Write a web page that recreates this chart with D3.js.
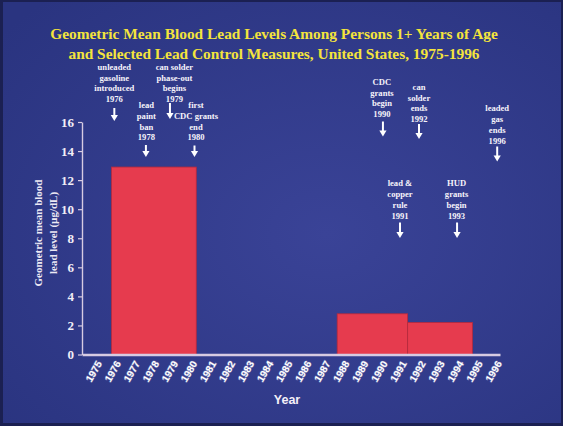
<!DOCTYPE html>
<html><head><meta charset="utf-8">
<script src="https://cdn.jsdelivr.net/npm/d3@7"></script>
<style>body{margin:0;background:#1b2052}svg{display:block}</style>
</head><body>
<script>
// ---- data ----
const titleLines = ["Geometric Mean Blood Lead Levels Among Persons 1+ Years of Age",
                    "and Selected Lead Control Measures, United States, 1975-1996"];
const yearTicks = [1975,1976,1977,1978,1979,1980,1981,1982,1983,1984,1985,1986,1987,1988,1989,1990,1991,1992,1993,1994,1995,1996];
const yTicks = [0,2,4,6,8,10,12,14,16];
const periodStart = [1975.8, 1987.65, 1991.35];
const periodEnd   = [1980.25, 1991.35, 1994.75];
const meanLead    = [12.9, 2.8, 2.2];
const eventLabels = [
  ["unleaded","gasoline","introduced","1976"],
  ["lead","paint","ban","1978"],
  ["can solder","phase-out","begins","1979"],
  ["first","CDC grants","end","1980"],
  ["CDC","grants","begin","1990"],
  ["lead &","copper","rule","1991"],
  ["can","solder","ends","1992"],
  ["HUD","grants","begin","1993"],
  ["leaded","gas","ends","1996"]
];
const eventYears = [1976,1978,1979,1980,1990,1991,1992,1993,1996];

// ---- layout (pixels) ----
const W = 563, H = 426;
// per-event: text dx, arrow dx, first text line y, arrow top, arrow bottom
const evLayout = [
  {tdx:-1, adx:-1, ty:66.7, a0:108, a1:121},
  {tdx:-7, adx:-7.5, ty:105, a0:145, a1:157},
  {tdx:2,  adx:-2.5, ty:66.7, a0:103, a1:119},
  {tdx:4.5,adx:3, ty:105, a0:145.5, a1:157},
  {tdx:0,  adx:1, ty:81.7, a0:121.5, a1:136.5},
  {tdx:-1, adx:-1, ty:183.3, a0:222.5, a1:238},
  {tdx:-1, adx:-1, ty:86.7, a0:124, a1:139},
  {tdx:17.5, adx:18, ty:183.3, a0:222.5, a1:238},
  {tdx:1,  adx:1, ty:108.3, a0:146.5, a1:161.5}
];

const svg = d3.select("body").append("svg").attr("width", W).attr("height", H);
const defs = svg.append("defs");
const rg = defs.append("radialGradient").attr("id","bg").attr("cx","0.58").attr("cy","0.55").attr("r","0.75");
rg.append("stop").attr("offset","0").attr("stop-color","#3a4397");
rg.append("stop").attr("offset","1").attr("stop-color","#2a3480");

svg.append("rect").attr("width",W).attr("height",H).attr("fill","#1b2052");
svg.append("rect").attr("x",3).attr("y",2).attr("width",W-5).attr("height",421).attr("fill","url(#bg)");

// title
svg.append("g").selectAll("text").data(titleLines).join("text")
  .attr("x",274).attr("y",(d,i)=>38.5+i*20.5)
  .attr("text-anchor","middle")
  .attr("font-family","'Liberation Serif','Times New Roman',serif")
  .attr("font-weight","bold").attr("font-size",15.4)
  .attr("fill","#f4e43c").text(d=>d);

// scales
const x = d3.scaleLinear().domain([1974.25,1996.2]).range([82,500]);
const y = d3.scaleLinear().domain([0,16]).range([354.5,122]);

// bars
svg.append("g").selectAll("rect").data(meanLead).join("rect")
  .attr("x",(d,i)=>x(periodStart[i]))
  .attr("width",(d,i)=>x(periodEnd[i])-x(periodStart[i]))
  .attr("y",d=>y(d)).attr("height",d=>y(0)-y(d))
  .attr("fill","#e63b4e").attr("stroke","#b62a3c").attr("stroke-width",0.8);

const axisCol = "#d7cbe2";
// y axis
const ya = svg.append("g").attr("transform","translate(82,0)")
  .call(d3.axisLeft(y).tickValues(yTicks).tickSize(4).tickSizeOuter(0).tickPadding(4));
ya.select(".domain").attr("stroke",axisCol).attr("stroke-width",1.4);
ya.selectAll(".tick line").attr("stroke",axisCol).attr("stroke-width",1.2);
ya.selectAll(".tick text").attr("fill","#f2eef6")
  .attr("font-family","'Liberation Serif','Times New Roman',serif")
  .attr("font-weight","bold").attr("font-size",13);

// x axis
const xa = svg.append("g").attr("transform",`translate(0,${y(0)})`)
  .call(d3.axisBottom(x).tickValues(yearTicks).tickSize(0).tickSizeOuter(0).tickFormat(d=>String(d)));
xa.select(".domain").attr("stroke",axisCol).attr("stroke-width",2.4);
xa.selectAll(".tick text")
  .attr("text-anchor","end").attr("dy",0).attr("y",0)
  .attr("transform","translate(5.5,9) rotate(-60)")
  .attr("fill","#ffffff").attr("stroke","rgba(200,195,225,0.35)").attr("stroke-width",1.2)
  .attr("paint-order","stroke")
  .attr("font-family","'Liberation Sans',Arial,sans-serif")
  .attr("font-weight","bold").attr("font-size",10);

// axis titles
svg.append("text").attr("x",287).attr("y",404).attr("text-anchor","middle")
  .attr("font-family","'Liberation Sans',Arial,sans-serif").attr("font-weight","bold")
  .attr("font-size",12.5).attr("fill","#f4f0f8").text("Year");
const yt = svg.append("text").attr("transform","translate(0,233) rotate(-90)")
  .attr("text-anchor","middle")
  .attr("font-family","'Liberation Serif','Times New Roman',serif").attr("font-weight","bold")
  .attr("font-size",11).attr("fill","#ece8f4");
yt.append("tspan").attr("x",0).attr("y",42).text("Geometric mean blood");
yt.append("tspan").attr("x",0).attr("y",57).text("lead level (µg/dL)");

// annotations
const ev = svg.append("g").selectAll("g").data(eventLabels).join("g");
ev.each(function(lines,i){
  const g = d3.select(this), L = evLayout[i], cx = x(eventYears[i]);
  g.selectAll("text").data(lines).join("text")
    .attr("x",cx+L.tdx).attr("y",(d,j)=>L.ty+3+j*10.8)
    .attr("text-anchor","middle")
    .attr("font-family","'Liberation Serif','Times New Roman',serif")
    .attr("font-weight","bold").attr("font-size",8.6)
    .attr("fill","#f6f3fa").text(d=>d);
  const ax = cx+L.adx;
  g.append("line").attr("x1",ax).attr("x2",ax).attr("y1",L.a0).attr("y2",L.a1-5)
    .attr("stroke","#ffffff").attr("stroke-width",2);
  g.append("path").attr("d",`M${ax-3.6},${L.a1-6}L${ax+3.6},${L.a1-6}L${ax},${L.a1}Z`).attr("fill","#ffffff");
});
</script>
</body></html>
